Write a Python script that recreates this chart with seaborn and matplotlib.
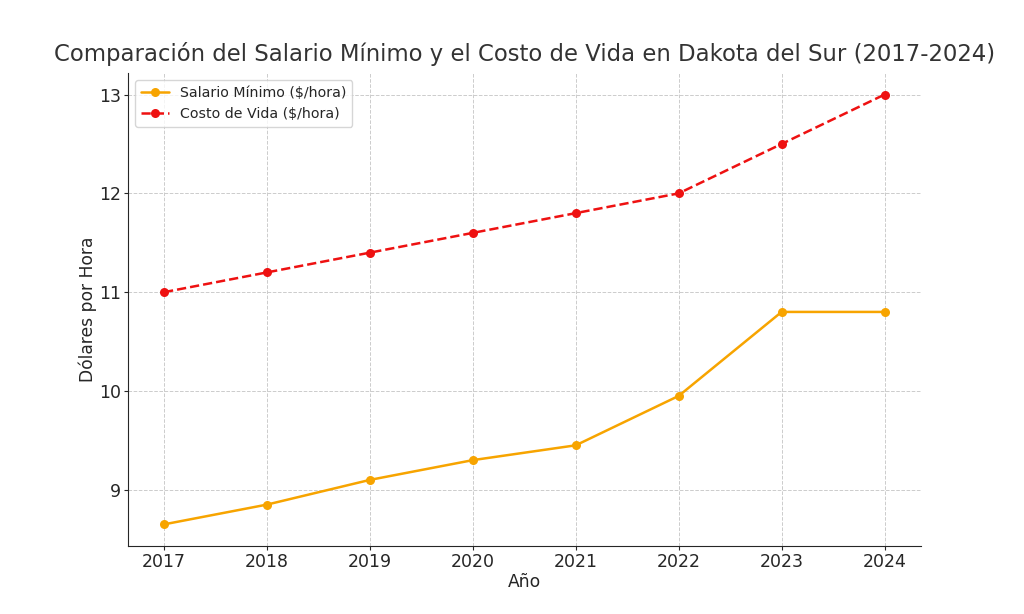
import matplotlib
matplotlib.use("Agg")
import matplotlib.pyplot as plt
import seaborn as sns
import pandas as pd

years = [2017, 2018, 2019, 2020, 2021, 2022, 2023, 2024]
salario_minimo = [8.65, 8.85, 9.10, 9.30, 9.45, 9.95, 10.80, 10.80]
costo_vida = [11.0, 11.2, 11.4, 11.6, 11.8, 12.0, 12.5, 13.0]

sns.set_style("ticks")
plt.rcParams['font.family'] = ['DejaVu Sans']
text_color = '#262626'
plt.rcParams['text.color'] = text_color
plt.rcParams['axes.labelcolor'] = text_color
plt.rcParams['xtick.color'] = text_color
plt.rcParams['ytick.color'] = text_color

fig = plt.figure(figsize=(10.24, 6.14), dpi=100)
ax = fig.add_axes([0.125, 0.111, 0.774, 0.770])

df = pd.DataFrame({"Año": years, "Salario": salario_minimo, "Costo": costo_vida})

sns.lineplot(data=df, x="Año", y="Salario", ax=ax, color="#F7A400", marker="o",
             markersize=6.5, markeredgewidth=0, linewidth=1.8, label="Salario Mínimo ($/hora)")
sns.lineplot(data=df, x="Año", y="Costo", ax=ax, color="#EE1111", marker="o",
             markersize=6.5, markeredgewidth=0, linewidth=1.8, linestyle="--",
             label="Costo de Vida ($/hora)")

ax.set_title("Comparación del Salario Mínimo y el Costo de Vida en Dakota del Sur (2017-2024)",
             fontsize=16.4, color='#333333', pad=9)
ax.set_xlabel("Año", fontsize=12.3, labelpad=1.5)
ax.set_ylabel("Dólares por Hora", fontsize=12.3, labelpad=1.5)
ax.set_xticks(years)
ax.set_yticks([9, 10, 11, 12, 13])
ax.tick_params(axis='both', labelsize=12.5, length=3, width=0.8, pad=2)
ax.grid(True, linestyle='--', color='#cccccc', linewidth=0.7)
sns.despine(ax=ax)
ax.legend(loc="upper left", fontsize=10.2, frameon=True)

fig.savefig("out.png", dpi=100)
